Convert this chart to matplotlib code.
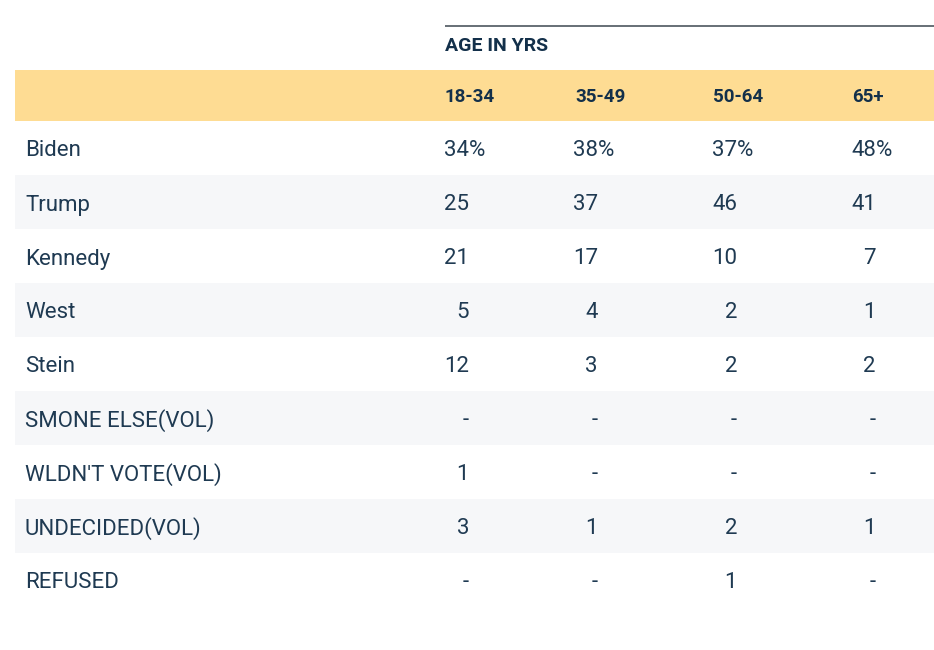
import matplotlib
matplotlib.use("Agg")
import matplotlib.pyplot as plt
from matplotlib.patches import Rectangle

group_title = "AGE IN YRS"
columns = ["18-34", "35-49", "50-64", "65+"]
rows = ["Biden", "Trump", "Kennedy", "West", "Stein", "SMONE ELSE(VOL)",
        "WLDN'T VOTE(VOL)", "UNDECIDED(VOL)", "REFUSED"]
col_18_34 = ["34", "25", "21", "5", "12", "-", "1", "3", "-"]
col_35_49 = ["38", "37", "17", "4", "3", "-", "-", "1", "-"]
col_50_64 = ["37", "46", "10", "2", "2", "-", "-", "2", "1"]
col_65_up = ["48", "41", "7", "1", "2", "-", "-", "1", "-"]
values = [col_18_34, col_35_49, col_50_64, col_65_up]

W, H = 934, 650
fig = plt.figure(figsize=(W / 100, H / 100), dpi=100)
ax = fig.add_axes([0, 0, 1, 1])
ax.set_xlim(0, W)
ax.set_ylim(H, 0)
ax.axis("off")

FONT = "Roboto"
dark = "#13304a"
txt = "#1f3a52"
yellow = "#fedc93"
gray = "#f6f7f9"
FS = 16

# top rule and group title
ax.plot([445, W], [26, 26], color="#4d565f", lw=1.2, solid_capstyle="butt")
ax.text(445, 51, group_title, ha="left", va="baseline", fontsize=14,
        fontweight="bold", color=dark, family=FONT)

# header band
ax.add_patch(Rectangle((15, 70), W - 15, 51, color=yellow, lw=0))
col_left = [445, 575, 713, 852]
col_right = [469, 598, 737, 876]
for x, c in zip(col_left, columns):
    ax.text(x, 102, c, ha="left", va="baseline", fontsize=13.5, fontweight="bold",
            color=dark, family=FONT)

row_top = 121
row_h = 54
for i, r in enumerate(rows):
    y0 = row_top + i * row_h
    if i % 2 == 1:
        ax.add_patch(Rectangle((15, y0), W - 15, row_h, color=gray, lw=0))
    yb = y0 + 35.5
    ax.text(25, yb, r, ha="left", va="baseline", fontsize=FS, color=txt,
            family=FONT)
    for j in range(len(columns)):
        v = values[j][i]
        xr = col_right[j]
        ax.text(xr, yb, v, ha="right", va="baseline", fontsize=FS,
                color=txt, family=FONT)
        if i == 0:
            ax.text(xr, yb, "%", ha="left", va="baseline", fontsize=FS,
                    color=txt, family=FONT)

fig.savefig("out.png", dpi=100, facecolor="white")
